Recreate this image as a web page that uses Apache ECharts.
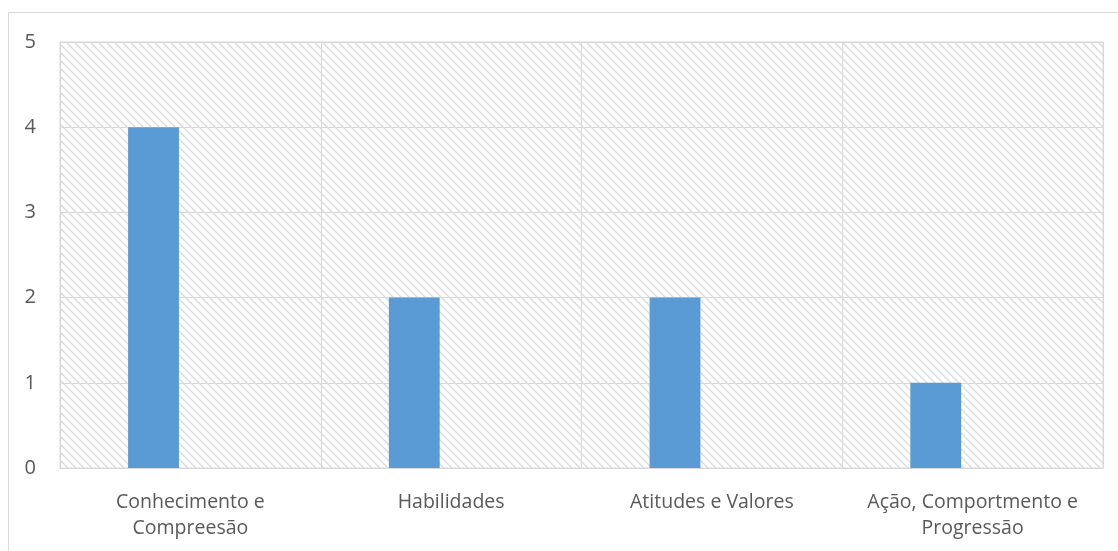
<!DOCTYPE html>
<html>
<head>
<meta charset="utf-8">
<script src="https://cdn.jsdelivr.net/npm/echarts@6/dist/echarts.min.js"></script>
<style>
html,body{margin:0;padding:0;background:#fff;}
#chart{width:1118px;height:551px;}
</style>
</head>
<body>
<div id="chart"></div>
<script>
const categories = ['Conhecimento e\nCompreesão', 'Habilidades', 'Atitudes e Valores', 'Ação, Comportmento e\nProgressão'];
const values = [4, 2, 2, 1];
const emptySeries = [null, null, null, null];
const yTicks = { min: 0, max: 5, interval: 1 };

// hatch pattern tile
const tile = document.createElement('canvas');
tile.width = 8; tile.height = 8;
const ctx = tile.getContext('2d');
ctx.fillStyle = '#ffffff';
ctx.fillRect(0, 0, 8, 8);
ctx.strokeStyle = '#d9d9d9';
ctx.lineWidth = 1.3;
ctx.beginPath();
ctx.moveTo(-1, -1); ctx.lineTo(9, 9);
ctx.moveTo(-1, 7); ctx.lineTo(1, 9);
ctx.moveTo(7, -1); ctx.lineTo(9, 1);
ctx.stroke();

const chart = echarts.init(document.getElementById('chart'));
const gray = '#d9d9d9';
chart.setOption({
  animation: false,
  backgroundColor: '#fff',
  textStyle: { fontFamily: 'Open Sans' },
  graphic: [{
    type: 'rect',
    shape: { x: 8.5, y: 12.5, width: 1200, height: 600 },
    style: { fill: null, stroke: gray, lineWidth: 1 },
    z: -10
  }],
  grid: {
    left: 60, top: 42, right: 15, bottom: 83,
    show: true,
    backgroundColor: { image: tile, repeat: 'repeat' },
    borderColor: gray, borderWidth: 1
  },
  xAxis: {
    type: 'category',
    data: categories,
    axisLine: { show: true, lineStyle: { color: gray, width: 1 } },
    axisTick: { show: false },
    splitLine: { show: true, interval: 0, lineStyle: { color: gray, width: 1 } },
    axisLabel: {
      interval: 0, margin: 21, color: '#595959', fontSize: 19.5,
      lineHeight: 26, fontFamily: 'Open Sans'
    }
  },
  yAxis: {
    type: 'value',
    min: yTicks.min, max: yTicks.max, interval: yTicks.interval,
    axisLine: { show: true, lineStyle: { color: gray } },
    axisTick: { show: false },
    splitLine: { show: true, lineStyle: { color: gray, width: 1 } },
    axisLabel: { margin: 24, color: '#595959', fontSize: 20, fontFamily: 'Open Sans' }
  },
  series: [
    { type: 'bar', data: values, barWidth: '19.5%', barGap: '45%', itemStyle: { color: '#5b9bd5' } },
    { type: 'bar', data: emptySeries, barWidth: '19.5%', itemStyle: { color: '#ed7d31' } }
  ]
});
</script>
</body>
</html>
